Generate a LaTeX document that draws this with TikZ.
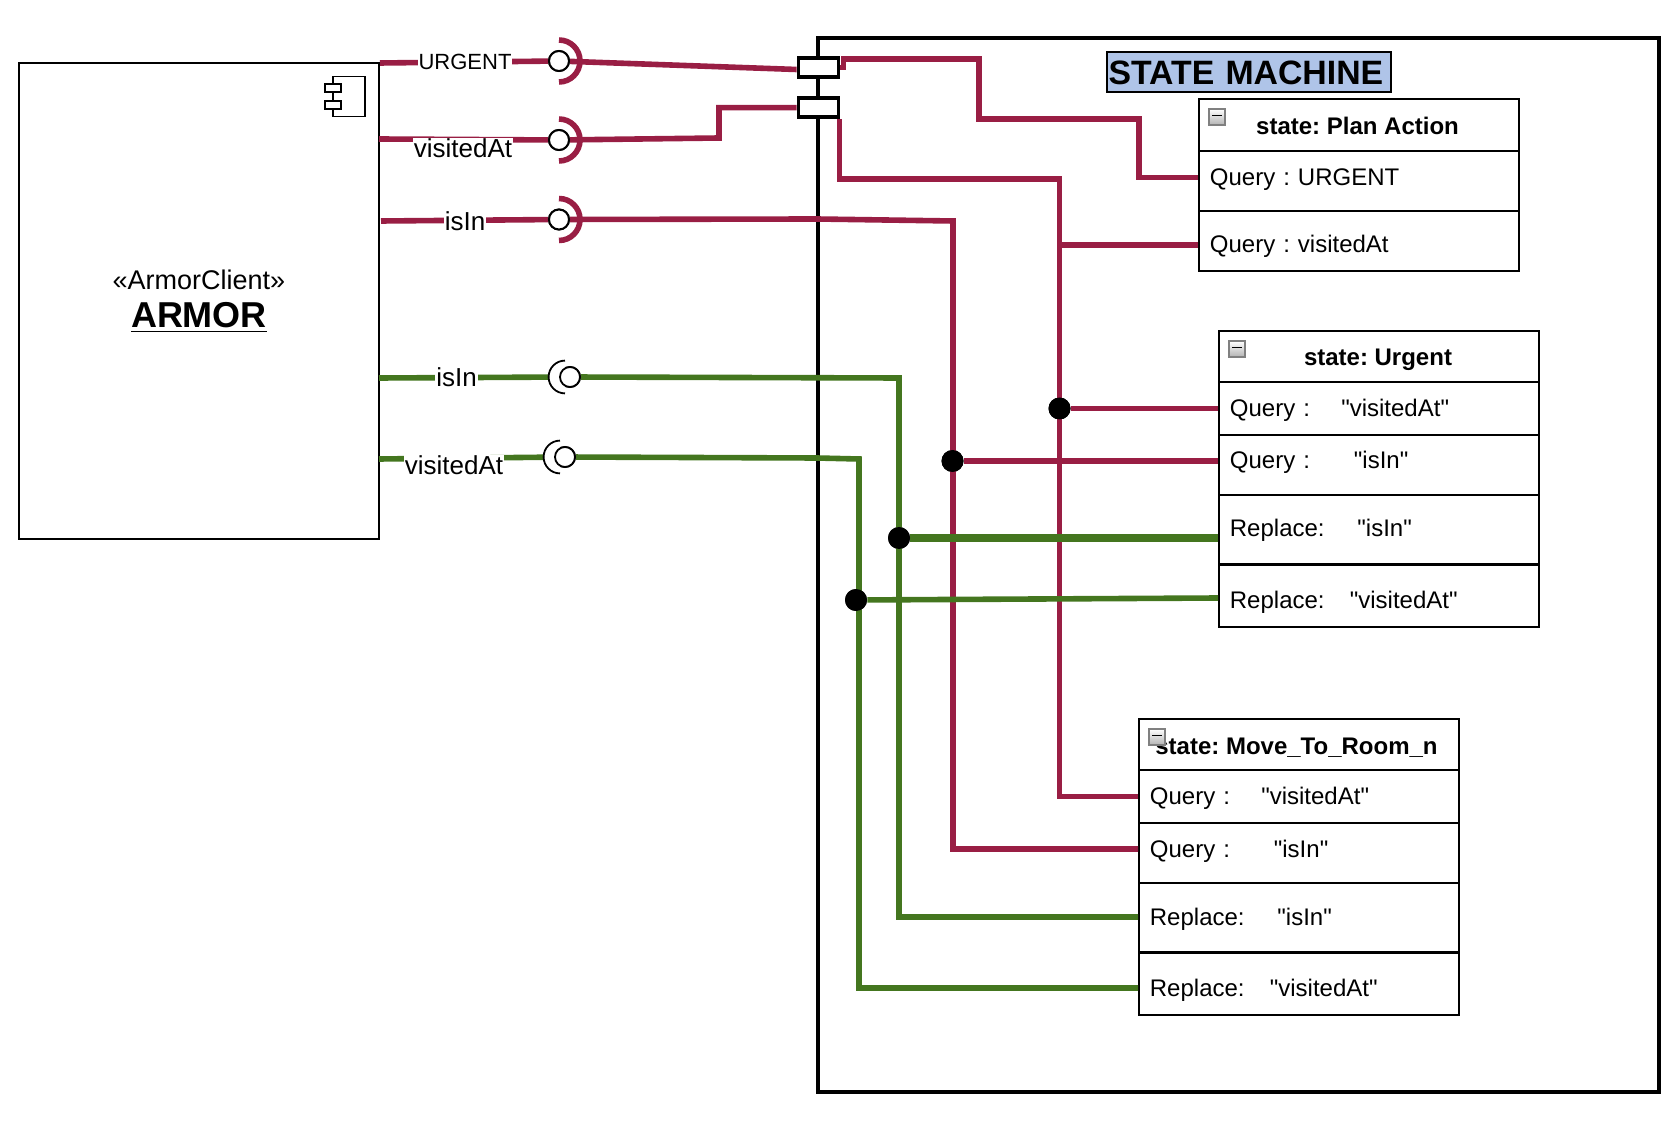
\documentclass[tikz,border=0pt]{standalone}
\usepackage{fontspec}
\setmainfont[Ligatures=TeXOff]{Liberation Sans}
\definecolor{wirered}{HTML}{991E44}
\definecolor{wiregreen}{HTML}{44761F}
\definecolor{titleblue}{HTML}{AFC4E8}
\usetikzlibrary{calc}

\begin{document}
\frenchspacing
\begin{tikzpicture}[x=0.5pt,y=-0.5pt,
redwire/.style={wirered,line width=2.8pt},
greenwire/.style={wiregreen,line width=2.8pt},
wirelabel/.style={fill=white,inner xsep=0.5pt,inner ysep=0pt,font=\fontsize{13}{15}\selectfont},
ball/.style={circle,draw,fill=white,line width=1pt,minimum size=10pt,inner sep=0pt},
junction/.style={circle,fill=black,minimum size=11pt,inner sep=0pt},
port/.style={rectangle,draw,fill=white,line width=1.9pt,minimum width=20pt,minimum height=9.5pt,inner sep=0pt},
statebox/.style={rectangle,draw,line width=1.1pt,minimum width=160pt,anchor=north west,inner sep=0pt},
cell/.style={anchor=west,text width=148.5pt,inner xsep=5.75pt,inner ysep=0pt,align=left,text height=10.5pt,text depth=2.5pt,font=\fontsize{12}{14}\selectfont},
statetitle/.style={font=\bfseries\fontsize{12}{14}\selectfont,inner sep=0pt},
minusicon/.style={rectangle,draw=gray,top color=white,bottom color=gray!60,line width=0.6pt,minimum size=8pt,inner sep=0pt,
   path picture={\draw[black,line width=0.8pt] ([xshift=-2.5pt,yshift=0.7pt]path picture bounding box.center) -- ([xshift=2.5pt,yshift=0.7pt]path picture bounding box.center);}},
iconpart/.style={rectangle,draw,fill=white,line width=0.9pt,inner sep=0pt}]
\useasboundingbox (0,0) rectangle (1680,1122);

% the two big frames
\node[rectangle,draw,line width=1pt,minimum width=180pt,minimum height=238pt,align=center,inner sep=0pt] (armor) at (199,301)
   {\fontsize{13.5}{18}\selectfont «ArmorClient»\\[5.5pt]\fontsize{18}{20}\selectfont\bfseries\underline{ARMOR}};
\node[rectangle,draw,line width=2pt,minimum width=420.5pt,minimum height=526.5pt,inner sep=0pt] (machine) at (1238,565) {};
\node[rectangle,draw,fill=titleblue,line width=1pt,minimum width=142pt,minimum height=20pt,inner xsep=0.5pt,inner ysep=0pt,text width=140.5pt,align=left,font=\bfseries\fontsize{16.9}{20}\selectfont] (title) at (1249,72.5) {STATE MACHINE};

% component icon
\node[iconpart,minimum width=16pt,minimum height=20pt] (iconBody) at (349,96.5) {};
\foreach \k/\y in {A/88.3,B/105} {
   \node[iconpart,minimum width=8pt,minimum height=4pt] (iconTab\k) at (333,\y) {};
}

% state: Plan Action
\node[statebox,minimum height=86.2pt] (plan) at (1198,97.6) {};
\foreach \y in {151,211} {
   \draw[line width=1.1pt] (plan.west |- 0,\y) -- (plan.east |- 0,\y);
}
\node[statetitle] (planTitle) at (1357.5,125.5) {state: Plan Action};
\node[cell] (planQu) at (1198,177.5) {Query : URGENT};
\node[cell] (planQv) at (1198,245) {Query : visitedAt};
\node[minusicon] (planIcon) at (1217,117) {};

% state: Urgent and state: Move_To_Room_n
\foreach \st/\x/\d/\tx/\nm in {urgent/1218/0/1378/Urgent,move/1138/388/1296.5/Move\_To\_Room\_n} {
   \node[statebox,minimum height=148pt] (\st) at (\x,330+\d) {};
   \foreach \y in {382,435,495,564.5} {
      \draw[line width=1.1pt] (\x,\y+\d) -- (\x+320,\y+\d);
   }
   \node[statetitle] (\st Title) at (\tx,359.5+\d) {state: \nm};
   \foreach \k/\y/\lab/\gap/\val in {%
   Qv/408.5/Query :/55.7pt/"visitedAt",Qi/461/Query :/62pt/"isIn",Ri/529/Replace:/63.8pt/"isIn",Rv/600/Replace:/60pt/"visitedAt"} {
      \node[cell] (\st\k) at (\x,\y+\d) {\makebox[\gap][l]{\lab}\val};
   }
   \node[minusicon] (\st Icon) at (\x+19,349+\d) {};
}

% required interfaces
\foreach \k/\x/\y in {Urgent/559/61,Visited/559/140,IsIn/559/219.5} {
   \node[ball] (ball\k) at (\x,\y) {};
}
\foreach \k/\x/\y in {GreenIsIn/570/377,GreenVisited/565/457} {
   \node[ball] (ball\k) at (\x,\y) {};
}
\node[port] (portUrgent) at (818.5,67.5) {};
\node[port] (portVisited) at (818.5,107.7) {};

\coordinate (armVisited) at (379,139);
\coordinate (armIsIn) at (381,221);
\coordinate (armGreenIsIn) at (379,378);
\coordinate (armGreenVisited) at (379,459);

\node[junction] (dotQv) at (1059.5,408.5) {};
\node[junction] (dotQi) at (952.5,461) {};
\node[junction] (dotRi) at (899,538) {};
\node[junction] (dotRv) at (856,600) {};

% red wires
\draw[redwire] ([yshift=-0.5pt]armor.north east) -- (ballUrgent);
\draw[redwire] (armVisited) -- (ballVisited);
\draw[redwire] (armIsIn) -- (ballIsIn);
\draw[redwire] (ballUrgent) -- ([yshift=-1pt]portUrgent.west);
\draw[redwire] (ballVisited) -- (719,138) |- (portVisited.west);
\draw[redwire] (ballIsIn) -- (817,219) -- (953,221) |- (moveQi.west);
\draw[redwire] (portUrgent.east) -- ++(3,0) |- (979,59) |- (1139,119) |- (planQu.west);
\draw[redwire] ([xshift=-0.5pt]portVisited.south east) |- (1059.5,179) |- (moveQv.west);
\draw[redwire] (1059.5,245) -- (planQv.west);
\draw[redwire] (dotQv) -- (urgentQv.west);
\draw[redwire] (dotQi) -- (urgentQi.west);

% green wires
\draw[greenwire] (armGreenIsIn) -- (ballGreenIsIn);
\draw[greenwire] (armGreenVisited) -- (ballGreenVisited);
\draw[greenwire] (ballGreenIsIn) -- (899,378) |- (moveRi.west);
\draw[greenwire] (ballGreenVisited) -- (817,458) -- (859,459) |- (moveRv.west);
\draw[greenwire,line width=3.6pt] (dotRi) -- (urgentRi.west |- dotRi);
\draw[greenwire] (dotRv) -- ([yshift=1pt]urgentRv.west);

% sockets and balls on top of the wires
\foreach \k in {Urgent,Visited,IsIn} {
   \draw[redwire] (ball\k) ++(0pt,10.5pt) arc (90:-90:10.5pt);
   \node[ball] at (ball\k) {};
}
\foreach \k in {GreenIsIn,GreenVisited} {
   \draw[fill=white,draw=none] (ball\k) ++(-2.5pt,8.2pt) arc (90:270:8.2pt) -- cycle;
   \draw[line width=0.9pt] (ball\k) ++(-2.5pt,8.2pt) arc (90:270:8.2pt);
   \node[ball,line width=0.9pt] at (ball\k) {};
}
\foreach \k in {dotQv,dotQi,dotRi,dotRv} {
   \node[junction] at (\k) {};
}
\node[port] at (portUrgent) {};
\node[port] at (portVisited) {};

% wire labels
\node[wirelabel,font=\fontsize{11}{13}\selectfont] (lblUrgent) at (465,62) {URGENT};
\node[wirelabel] (lblVisited) at (463,148) {visitedAt};
\node[wirelabel] (lblIsIn) at (465,221) {isIn};
\node[wirelabel] (lblGreenIsIn) at (456.5,377) {isIn};
\node[wirelabel] (lblGreenVisited) at (454,465) {visitedAt};
\end{tikzpicture}
\end{document}
